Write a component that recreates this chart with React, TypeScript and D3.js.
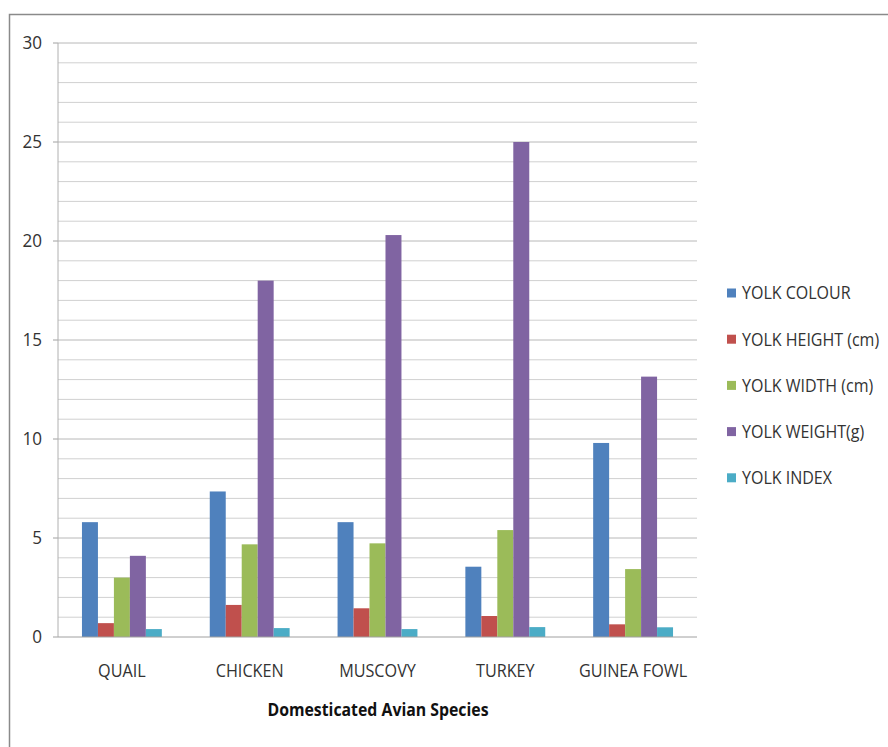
import React from "react";
import * as d3 from "d3";

const categories = ["QUAIL", "CHICKEN", "MUSCOVY", "TURKEY", "GUINEA FOWL"];
const seriesNames = ["YOLK COLOUR", "YOLK HEIGHT (cm)", "YOLK WIDTH (cm)", "YOLK WEIGHT(g)", "YOLK INDEX"];
const seriesColors = ["#4F81BD", "#C0504D", "#9BBB59", "#8064A2", "#4BACC6"];
const yolkColour = [5.8, 7.35, 5.8, 3.55, 9.8];
const yolkHeight = [0.7, 1.62, 1.45, 1.06, 0.64];
const yolkWidth = [3.0, 4.68, 4.73, 5.4, 3.43];
const yolkWeight = [4.1, 18.0, 20.3, 25.0, 13.15];
const yolkIndex = [0.4, 0.45, 0.4, 0.5, 0.49];
const yTicks = [0, 5, 10, 15, 20, 25, 30];

const FONT = "'Open Sans', sans-serif";

function T(props: { x: number; y: number; anchor?: string; size?: number; weight?: string; fill?: string; sx?: number; children: React.ReactNode }) {
  const { x, y, anchor = "start", size = 18, weight = "normal", fill = "#333", sx = 0.89, children } = props;
  return (
    <text transform={`translate(${x},${y}) scale(${sx},1)`} dy="0.35em" textAnchor={anchor} fontFamily={FONT} fontSize={size} fontWeight={weight} fill={fill}>
      {children}
    </text>
  );
}

export default function App() {
  const W = 888, H = 747;
  const left = 58, right = 697, top = 43, bottom = 637;
  const series = [yolkColour, yolkHeight, yolkWidth, yolkWeight, yolkIndex];
  const y = d3.scaleLinear().domain([0, 30]).range([bottom, top]);
  const x0 = d3.scaleBand().domain(categories).range([left, right]).paddingInner(0).paddingOuter(0);
  const groupW = x0.bandwidth() * 0.625;
  const x1 = d3.scaleBand().domain(seriesNames).range([0, groupW]).padding(0);
  const minor = d3.range(1, 31);
  return (
    <svg width={W} height={H} style={{ position: "absolute", left: 0, top: 0, background: "#fff" }}>
      <rect x={9.5} y={14.5} width={W + 10} height={H + 10} fill="#fff" stroke="#8a8a8a" strokeWidth={1.5} />
      {minor.map((v) => (
        <line key={"g" + v} x1={left} x2={right} y1={y(v)} y2={y(v)} stroke={v % 5 === 0 ? "#b8b8b8" : "#d0d0d0"} strokeWidth={1} />
      ))}
      {yTicks.map((v) => (
        <g key={"t" + v}>
          <line x1={left - 5} x2={left} y1={y(v)} y2={y(v)} stroke="#a0a0a0" />
          <T x={42} y={y(v)} anchor="end" size={18} sx={0.95}>{v}</T>
        </g>
      ))}
      <line x1={left} x2={left} y1={top} y2={bottom} stroke="#b0b0b0" />
      {categories.map((c, i) => {
        const gx = (x0(c) as number) + (x0.bandwidth() - groupW) / 2;
        return (
          <g key={c}>
            {series.map((s, j) => (
              <rect key={j} x={gx + (x1(seriesNames[j]) as number)} y={y(s[i])} width={x1.bandwidth()} height={bottom - y(s[i])} fill={seriesColors[j]} />
            ))}
            <T x={(x0(c) as number) + x0.bandwidth() / 2} y={671} anchor="middle" size={18} sx={0.9}>{c}</T>
          </g>
        );
      })}
      <line x1={left} x2={right} y1={bottom} y2={bottom} stroke="#a0a0a0" />
      <T x={378} y={710} anchor="middle" size={18} weight="bold" fill="#111" sx={0.88}>Domesticated Avian Species</T>
      {seriesNames.map((n, j) => (
        <g key={n} transform={`translate(727, ${293 + j * 46.2})`}>
          <rect x={0} y={-4.5} width={9} height={9} fill={seriesColors[j]} />
          <T x={15} y={0} size={18} sx={0.89}>{n}</T>
        </g>
      ))}
    </svg>
  );
}
